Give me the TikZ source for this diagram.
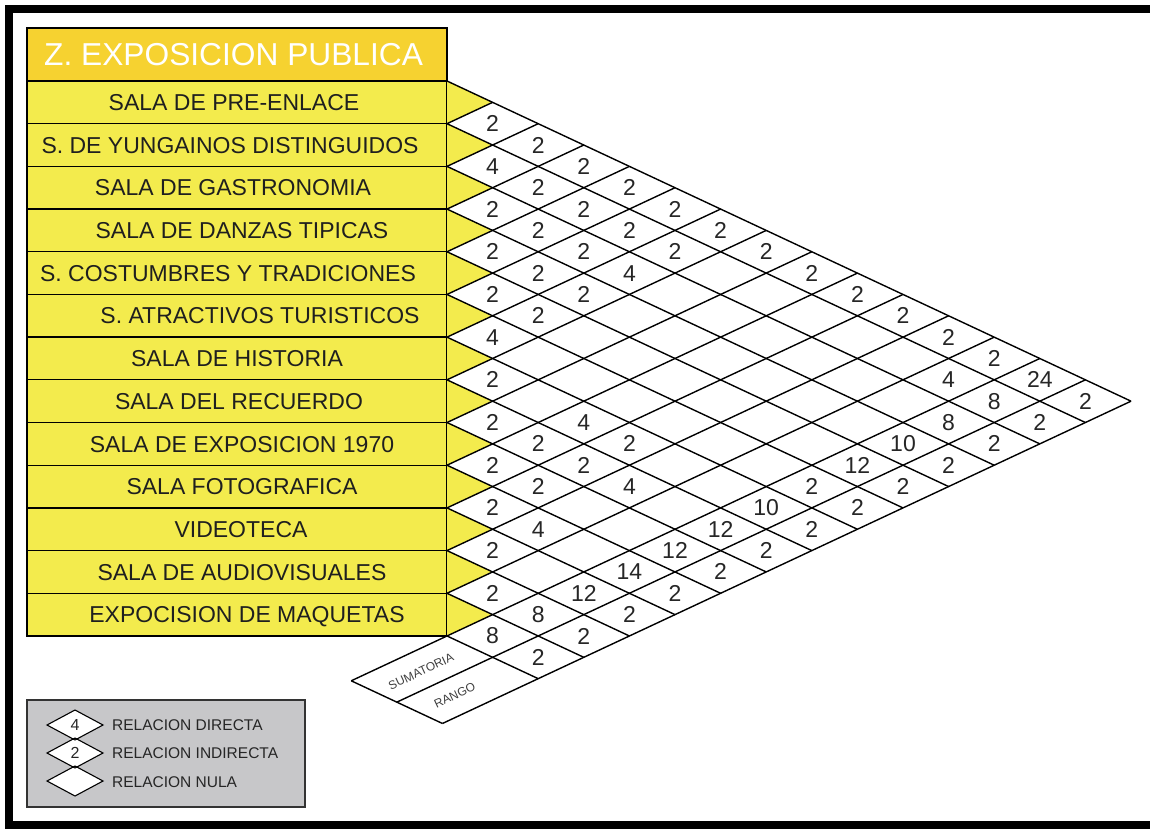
\documentclass[tikz,border=0pt]{standalone}
\usepackage{fontspec}
\setmainfont{Liberation Sans}
\definecolor{titlegold}{RGB}{246,210,48}
\definecolor{rowyellow}{RGB}{243,235,77}
\definecolor{legendgray}{RGB}{199,199,201}
\begin{document}
\begin{tikzpicture}[x=1pt,y=-1pt,
  gridline/.style={line width=1.4pt,black},
  boxline/.style={line width=1.3pt,black},
  rowlabel/.style={font=\fontsize{23}{23}\selectfont,text=black!88,inner sep=0pt,anchor=base},
  cellnum/.style={font=\fontsize{23}{23}\selectfont,text=black!85,inner sep=0pt},
  titletext/.style={font=\fontsize{31.7}{31.7}\selectfont,text=white,inner sep=0pt,anchor=base west},
  legtext/.style={font=\fontsize{15.5}{15.5}\selectfont,text=black!85,inner sep=0pt,anchor=base west},
  legnum/.style={font=\fontsize{16}{16}\selectfont,text=black!85,inner sep=0pt},
  smalllab/.style={font=\fontsize{12}{12}\selectfont,text=black!75,inner sep=0pt,rotate=25.08},
]
\useasboundingbox (0,0) rectangle (1150,829);
\fill[white] (0,0) rectangle (1150,829);
\draw[line width=8pt] (9,9) rectangle (1170,825);
% title
\draw[boxline,fill=titlegold] (27,28) rectangle (447,81);
\node[titletext] (title) at (44,65.5) {Z. EXPOSICION PUBLICA};
% rows
\foreach \i in {1,...,13} {
  \draw[boxline,fill=rowyellow] (27,{81+(\i-1)*42.69}) rectangle (447,{81+\i*42.69});
}
\foreach \i/\xx/\txt in {
  1/234/SALA DE PRE-ENLACE,
  2/230/S. DE YUNGAINOS DISTINGUIDOS,
  3/233/SALA DE GASTRONOMIA,
  4/242/SALA DE DANZAS TIPICAS,
  5/228/S. COSTUMBRES Y TRADICIONES,
  6/260/S. ATRACTIVOS TURISTICOS,
  7/237/SALA DE HISTORIA,
  8/239/SALA DEL RECUERDO,
  9/242/SALA DE EXPOSICION 1970,
  10/242/SALA FOTOGRAFICA,
  11/241/VIDEOTECA,
  12/242/SALA DE AUDIOVISUALES,
  13/247/EXPOCISION DE MAQUETAS} {
  \node[rowlabel] (lab\i) at (\xx,{81+(\i-0.5)*42.69+8.2}) {\txt};
}
% matrix grid
\begin{scope}[shift={(447,81)},x={(45.6pt,-21.345pt)},y={(45.6pt,21.345pt)}]
  \foreach \i in {1,...,13} {
    \fill[rowyellow] (\i-1,-\i+1) -- (\i,-\i+1) -- (\i,-\i) -- cycle;
  }
  \foreach \k in {0,...,13} {
    \draw[gridline] (\k,-\k) -- (15,-\k);
  }
  \foreach \m in {1,...,12} {
    \draw[gridline] (\m,-\m) -- (\m,0);
  }
  \foreach \m in {13,14,15} {
    \draw[gridline] (\m,-15.1) -- (\m,0);
  }
  \draw[gridline] (13,-15.1) -- (15,-15.1);
  \foreach \i/\j/\v in {
    1/2/2,1/3/2,1/4/2,1/5/2,1/6/2,1/7/2,1/8/2,1/9/2,1/10/2,1/11/2,1/12/2,1/13/2,1/14/24,1/15/2,
    2/3/4,2/4/2,2/5/2,2/6/2,2/7/2,2/13/4,2/14/8,2/15/2,
    3/4/2,3/5/2,3/6/2,3/7/4,3/14/8,3/15/2,
    4/5/2,4/6/2,4/7/2,4/14/10,4/15/2,
    5/6/2,5/7/2,5/14/12,5/15/2,
    6/7/4,6/14/2,6/15/2,
    7/8/2,7/10/4,7/11/2,7/14/10,7/15/2,
    8/9/2,8/10/2,8/11/2,8/12/4,8/14/12,8/15/2,
    9/10/2,9/11/2,9/14/12,9/15/2,
    10/11/2,10/12/4,10/14/14,10/15/2,
    11/12/2,11/14/12,11/15/2,
    12/13/2,12/14/8,12/15/2,
    13/14/8,13/15/2} {
    \node[cellnum] (c\i-\j) at (\j-0.5,-\i+0.5) {\v};
  }
  \node[smalllab] (suma) at (13.55,-14.12) {SUMATORIA};
  \node[smalllab] (rango) at (14.47,-14.3) {RANGO};
\end{scope}
% legend
\draw[line width=1.3pt,black!80,fill=legendgray] (27,700) rectangle (305,807);
\foreach \yy in {725,753,781} {
  \fill[white] (47,\yy) -- (75,{\yy-15}) -- (103,\yy) -- (75,{\yy+15}) -- cycle;
}
\foreach \yy in {725,753,781} {
  \draw[line width=1.1pt,black] (47,\yy) -- (75,{\yy-15}) -- (103,\yy) -- (75,{\yy+15}) -- cycle;
}
\node[legnum] (ln4) at (75,725) {4};
\node[legnum] (ln2) at (75,753) {2};
\node[legtext] (lt1) at (112,730) {RELACION DIRECTA};
\node[legtext] (lt2) at (112,758) {RELACION INDIRECTA};
\node[legtext] (lt3) at (112,787) {RELACION NULA};
\end{tikzpicture}
\end{document}
